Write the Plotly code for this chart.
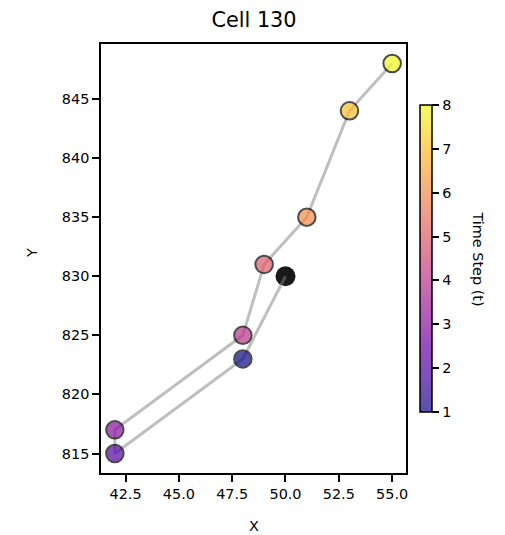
import plotly.graph_objects as go

# Data
x_vals = [50, 48, 42, 42, 48, 49, 51, 53, 55]
y_vals = [830, 823, 815, 817, 825, 831, 835, 844, 848]
t_vals = [1, 2, 3, 4, 5, 6, 7, 8]
x_ticks = [42.5, 45.0, 47.5, 50.0, 52.5, 55.0]
y_ticks = [815, 820, 825, 830, 835, 840, 845]
cb_ticks = [1, 2, 3, 4, 5, 6, 7, 8]
title_text = "Cell 130"
x_label = "X"
y_label = "Y"
cb_label = "Time Step (t)"

plasma = [
    [0.0, "#0d0887"], [0.111, "#46039f"], [0.222, "#7201a8"], [0.333, "#9c179e"],
    [0.444, "#bd3786"], [0.556, "#d8576b"], [0.667, "#ed7953"], [0.778, "#fb9f3a"],
    [0.889, "#fdca26"], [1.0, "#f0f921"],
]
alpha = 0.7


def blend(hexc, a):
    r, g, b = int(hexc[1:3], 16), int(hexc[3:5], 16), int(hexc[5:7], 16)
    r = round(r * a + 255 * (1 - a))
    g = round(g * a + 255 * (1 - a))
    b = round(b * a + 255 * (1 - a))
    return f"rgb({r},{g},{b})"


plasma_blend = [[p, blend(c, alpha)] for p, c in plasma]

font = "DejaVu Sans"
fs = 14.4
W, H = 497, 527
L, R, T, B = 93, 99, 36, 62
# plot area in screen coords: x 101..406, y 44..473
PX0, PX1, PY0, PY1 = 101, 406, 44, 473
pw, ph = PX1 - PX0, PY1 - PY0


def px(xs):
    return (xs - PX0) / pw


def py(ys):
    return (PY1 - ys) / ph


fig = go.Figure()

# initial position (black)
fig.add_trace(go.Scatter(
    x=[x_vals[0]], y=[y_vals[0]], mode="markers",
    marker=dict(size=20, color="rgba(0,0,0,0.9)", line=dict(width=0)),
    showlegend=False, hoverinfo="skip",
))

# trajectory line
fig.add_trace(go.Scatter(
    x=x_vals, y=y_vals, mode="lines",
    line=dict(color="rgba(128,128,128,0.5)", width=3),
    showlegend=False, hoverinfo="skip",
))

# time-step points
fig.add_trace(go.Scatter(
    x=x_vals[1:], y=y_vals[1:], mode="markers",
    marker=dict(size=17.5, color=t_vals, colorscale=plasma, cmin=1, cmax=8,
                opacity=alpha, line=dict(color="black", width=2),
                showscale=False),
    showlegend=False,
))

# colorbar carrier
fig.add_trace(go.Scatter(
    x=x_vals[1:], y=y_vals[1:], mode="markers",
    marker=dict(size=0.1, color=t_vals, colorscale=plasma_blend, cmin=1, cmax=8,
                opacity=0,
                showscale=True,
                colorbar=dict(
                    x=px(420), xanchor="left", xpad=0, ypad=0,
                    y=py(258.5), yanchor="middle",
                    len=307 / ph, lenmode="fraction",
                    thickness=12, outlinewidth=1.5, outlinecolor="black",
                    tickvals=cb_ticks, ticks="outside", ticklen=7, tickwidth=1.5,
                    tickcolor="black",
                    tickfont=dict(family=font, size=fs, color="black"),
                )),
    showlegend=False, hoverinfo="skip",
))

fig.add_annotation(
    text=cb_label, textangle=90,
    x=px(478), y=py(258.5), xref="paper", yref="paper",
    xanchor="center", yanchor="middle",
    showarrow=False, font=dict(family=font, size=fs, color="black"),
)
fig.add_annotation(
    text=x_label, x=0.5, y=py(526), xref="paper", yref="paper",
    xanchor="center", yanchor="middle",
    showarrow=False, font=dict(family=font, size=fs, color="black"),
)
fig.add_annotation(
    text=y_label, textangle=-90, x=px(32), y=py(253), xref="paper", yref="paper",
    xanchor="center", yanchor="middle",
    showarrow=False, font=dict(family=font, size=fs, color="black"),
)

axis_common = dict(
    showline=True, mirror=True, linecolor="black", linewidth=1.6,
    ticks="outside", ticklen=7, tickwidth=1.5, tickcolor="black",
    showgrid=False, zeroline=False,
    tickfont=dict(family=font, size=fs, color="black"),
)

fig.update_layout(
    width=W, height=H,
    margin=dict(l=L, r=R, t=T, b=B),
    paper_bgcolor="white", plot_bgcolor="white",
    title=dict(text=title_text, x=(254 - 8) / W, xanchor="center",
               y=1 - 12 / H, yanchor="middle",
               font=dict(family=font, size=20.8, color="black")),
    xaxis=dict(range=[41.35, 55.65], tickvals=x_ticks,
               ticktext=[f"{v:.1f}" for v in x_ticks], **axis_common),
    yaxis=dict(range=[813.35, 849.65], tickvals=y_ticks,
               ticktext=[str(v) for v in y_ticks], **axis_common),
    showlegend=False,
)

fig.write_html("out.html")
